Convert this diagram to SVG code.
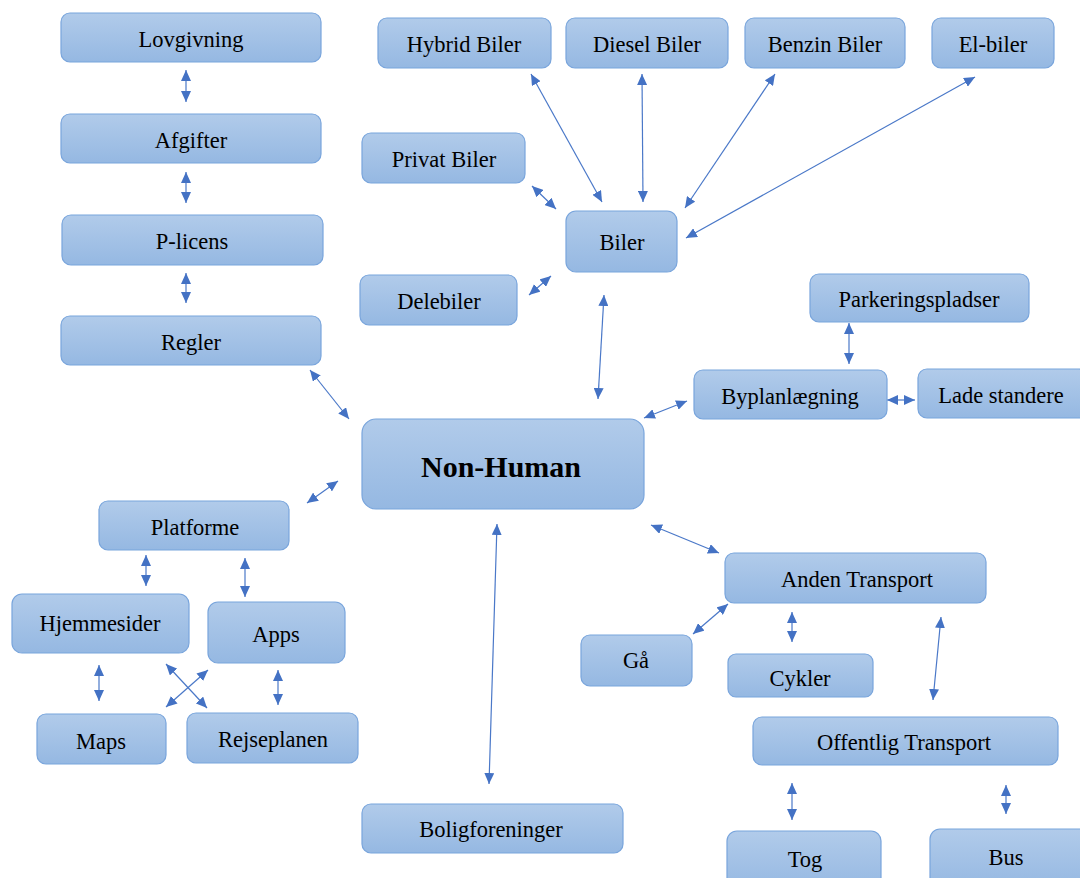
<svg xmlns="http://www.w3.org/2000/svg" width="1080" height="878" viewBox="0 0 1080 878">
<defs>
<linearGradient id="g" x1="0" y1="0" x2="0" y2="1">
<stop offset="0" stop-color="#b1cbea"/>
<stop offset="1" stop-color="#95b8e2"/>
</linearGradient>
<marker id="a" viewBox="0 0 11 10" refX="11" refY="5" markerWidth="11" markerHeight="10" markerUnits="userSpaceOnUse" orient="auto-start-reverse">
<path d="M0,0 L11,5 L0,10 z" fill="#4472c4"/>
</marker>
<style>
.n rect{fill:url(#g);stroke:#79a5dc;stroke-width:1.2}
.n text{font-family:"Liberation Serif","Times New Roman",serif;font-size:22.5px;fill:#000;text-anchor:middle;dominant-baseline:central}
#conn line{stroke:#4a78c8;stroke-width:1.2;marker-start:url(#a);marker-end:url(#a)}
</style>
</defs>
<rect width="1080" height="878" fill="#fff"/>
<g id="conn">
<line x1="186" y1="70" x2="186" y2="102"/>
<line x1="186" y1="172" x2="186" y2="203"/>
<line x1="186" y1="273" x2="186" y2="303"/>
<line x1="310" y1="370" x2="349" y2="419"/>
<line x1="531" y1="74" x2="602" y2="202"/>
<line x1="642" y1="74" x2="643" y2="202"/>
<line x1="775" y1="74" x2="685" y2="208"/>
<line x1="975" y1="77" x2="686" y2="238"/>
<line x1="532" y1="186" x2="556" y2="209"/>
<line x1="529" y1="295" x2="551" y2="276"/>
<line x1="604" y1="295" x2="598" y2="399"/>
<line x1="687" y1="401" x2="644" y2="418"/>
<line x1="849" y1="323" x2="849" y2="364"/>
<line x1="887" y1="400" x2="915" y2="400"/>
<line x1="338" y1="481" x2="307" y2="503"/>
<line x1="146" y1="555" x2="146" y2="586"/>
<line x1="245" y1="558" x2="245" y2="597"/>
<line x1="99" y1="665" x2="99" y2="701"/>
<line x1="278" y1="670" x2="278" y2="705"/>
<line x1="166" y1="664" x2="207" y2="708"/>
<line x1="208" y1="670" x2="166" y2="707"/>
<line x1="497" y1="524" x2="489" y2="784"/>
<line x1="651" y1="525" x2="719" y2="553"/>
<line x1="728" y1="604" x2="693" y2="634"/>
<line x1="792" y1="612" x2="792" y2="642"/>
<line x1="941" y1="617" x2="933" y2="700"/>
<line x1="792" y1="783" x2="792" y2="820"/>
<line x1="1006" y1="785" x2="1006" y2="814"/>
</g>
<g id="lovgivning" class="n"><rect x="61" y="13" width="260" height="49" rx="9"/><text x="191" y="39">Lovgivning</text></g>
<g id="afgifter" class="n"><rect x="61" y="114" width="260" height="49" rx="9"/><text x="191" y="140">Afgifter</text></g>
<g id="plicens" class="n"><rect x="62" y="215" width="261" height="50" rx="9"/><text x="192" y="241">P-licens</text></g>
<g id="regler" class="n"><rect x="61" y="316" width="260" height="49" rx="9"/><text x="191" y="342">Regler</text></g>
<g id="hybrid" class="n"><rect x="378" y="18" width="173" height="50" rx="9"/><text x="464" y="44">Hybrid Biler</text></g>
<g id="diesel" class="n"><rect x="566" y="18" width="162" height="50" rx="9"/><text x="647" y="44">Diesel Biler</text></g>
<g id="benzin" class="n"><rect x="745" y="18" width="160" height="50" rx="9"/><text x="825" y="44">Benzin Biler</text></g>
<g id="elbiler" class="n"><rect x="932" y="18" width="122" height="50" rx="9"/><text x="993" y="44">El-biler</text></g>
<g id="privat" class="n"><rect x="362" y="133" width="163" height="50" rx="9"/><text x="444" y="159">Privat Biler</text></g>
<g id="biler" class="n"><rect x="566" y="211" width="111" height="61" rx="10"/><text x="622" y="242">Biler</text></g>
<g id="delebiler" class="n"><rect x="360" y="275" width="157" height="50" rx="9"/><text x="439" y="301">Delebiler</text></g>
<g id="parkering" class="n"><rect x="810" y="274" width="219" height="48" rx="9"/><text x="919" y="299">Parkeringspladser</text></g>
<g id="byplan" class="n"><rect x="694" y="370" width="193" height="49" rx="9"/><text x="790" y="396">Byplanlægning</text></g>
<g id="lade" class="n"><rect x="918" y="369" width="170" height="49" rx="9"/><text x="1001" y="395">Lade standere</text></g>
<g id="nonhuman" class="n"><rect x="362" y="419" width="282" height="90" rx="14"/><text x="501" y="466" style="font-size:30px;font-weight:bold">Non-Human</text></g>
<g id="platforme" class="n"><rect x="99" y="501" width="190" height="49" rx="9"/><text x="195" y="527">Platforme</text></g>
<g id="hjemmesider" class="n"><rect x="12" y="594" width="177" height="59" rx="10"/><text x="100" y="623">Hjemmesider</text></g>
<g id="apps" class="n"><rect x="208" y="602" width="137" height="61" rx="10"/><text x="276" y="634">Apps</text></g>
<g id="maps" class="n"><rect x="37" y="714" width="129" height="50" rx="9"/><text x="101" y="741">Maps</text></g>
<g id="rejseplanen" class="n"><rect x="187" y="713" width="171" height="50" rx="9"/><text x="273" y="739">Rejseplanen</text></g>
<g id="anden" class="n"><rect x="725" y="553" width="261" height="50" rx="9"/><text x="857" y="579">Anden Transport</text></g>
<g id="ga" class="n"><rect x="581" y="635" width="111" height="51" rx="9"/><text x="636" y="660">Gå</text></g>
<g id="cykler" class="n"><rect x="728" y="654" width="145" height="43" rx="8"/><text x="800" y="678">Cykler</text></g>
<g id="offentlig" class="n"><rect x="753" y="717" width="305" height="48" rx="9"/><text x="904" y="742">Offentlig Transport</text></g>
<g id="bolig" class="n"><rect x="362" y="804" width="261" height="49" rx="9"/><text x="491" y="829">Boligforeninger</text></g>
<g id="tog" class="n"><rect x="727" y="831" width="154" height="60" rx="10"/><text x="805" y="859">Tog</text></g>
<g id="bus" class="n"><rect x="930" y="829" width="160" height="60" rx="10"/><text x="1006" y="857">Bus</text></g>
</svg>
